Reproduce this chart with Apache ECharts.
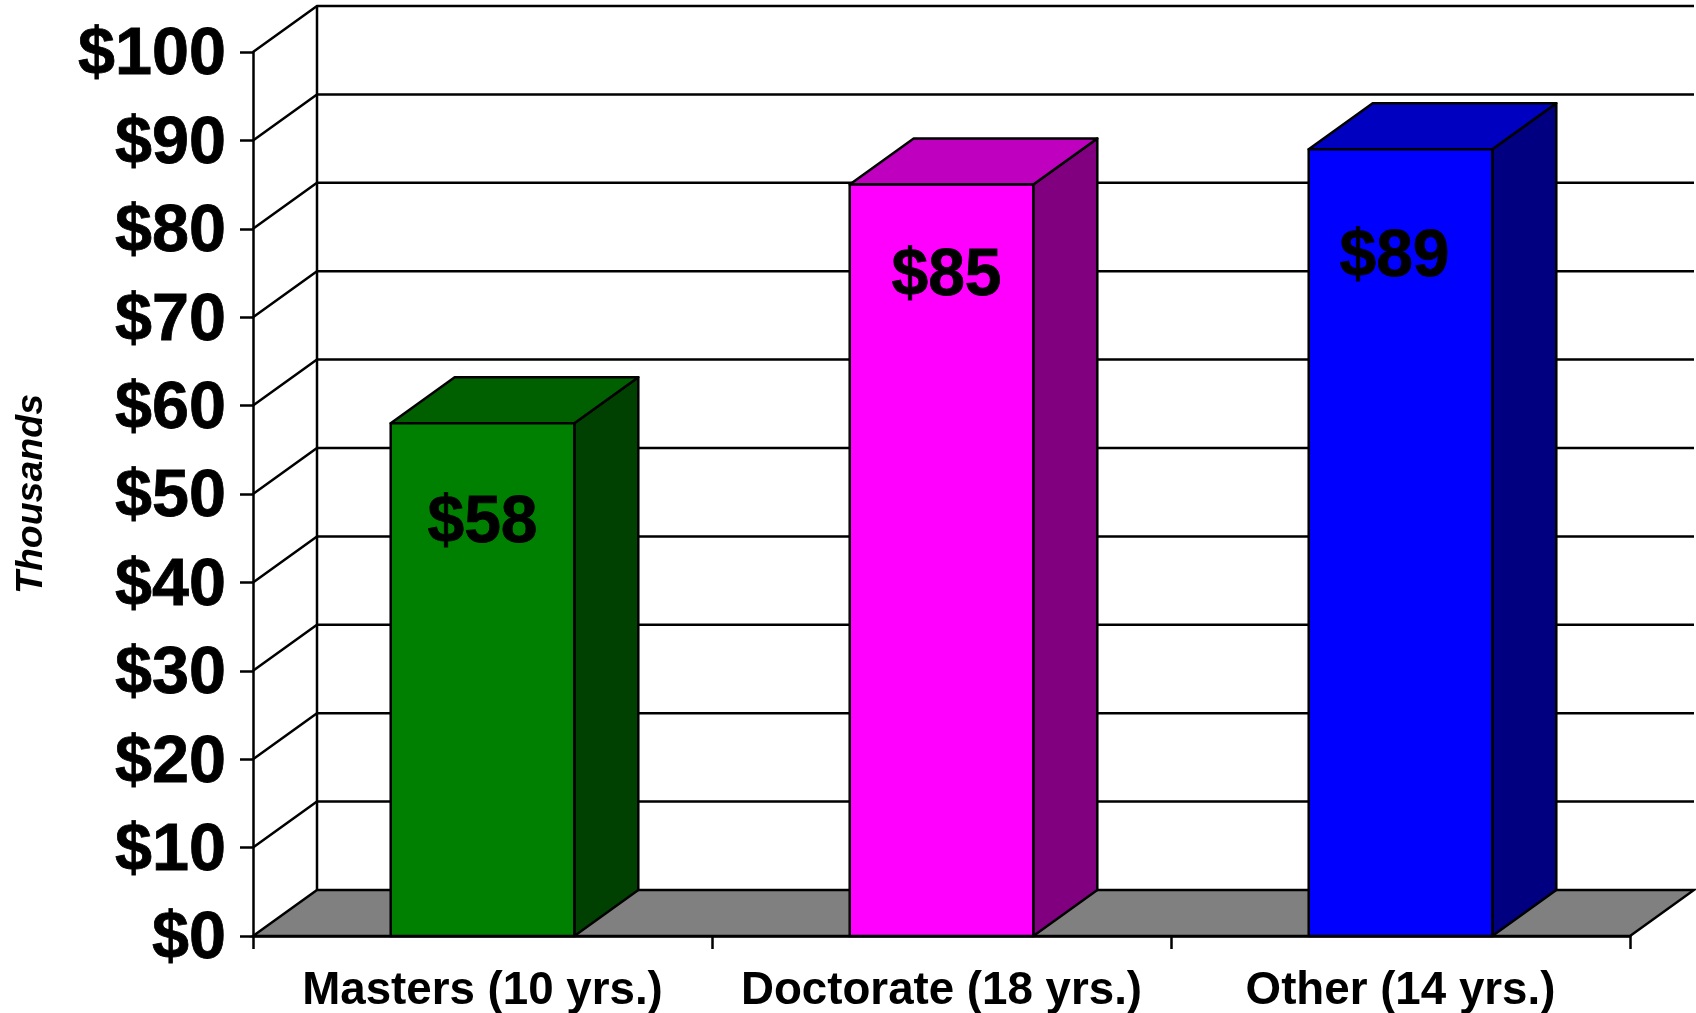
<!DOCTYPE html>
<html>
<head>
<meta charset="utf-8">
<style>html,body{margin:0;padding:0;background:#fff}#c{width:1696px;height:1013px}</style>
<script src="https://cdn.jsdelivr.net/npm/echarts@6/dist/echarts.min.js"></script>
</head>
<body>
<div id="c"></div>
<script>
var categories = ['Masters (10 yrs.)', 'Doctorate (18 yrs.)', 'Other (14 yrs.)'];
var salaries = [58, 85, 89];
var tickValues = [0, 10, 20, 30, 40, 50, 60, 70, 80, 90, 100];
var axisTitle = 'Thousands';

var FONT = '"Liberation Sans", Arial, sans-serif';
var DX = 64, DY = -46;
var LW = 2.5;
var barColors = [
  {front: '#008000', top: '#006000', side: '#004000'},
  {front: '#ff00ff', top: '#bf00bf', side: '#800080'},
  {front: '#0000ff', top: '#0000c0', side: '#000080'}
];
var labelNudge = [[0, 97], [5, 88], [-6, 105]];

function renderWall(params, api) {
  var cs = params.coordSys;
  var v = api.value(0);
  var y = api.coord([0, v])[1];
  var x0 = cs.x, x1 = cs.x + cs.width;
  var kids = [];
  if (params.dataIndex === 0) {
    kids.push({type: 'polygon', shape: {points: [[x0, y], [x0 + DX, y + DY], [x1 + DX, y + DY], [x1, y]]},
      style: {fill: '#808080', stroke: '#000', lineWidth: LW}});
    kids.push({type: 'line', shape: {x1: x0 + DX, y1: y + DY, x2: x0 + DX, y2: cs.y + DY},
      style: {stroke: '#000', lineWidth: LW}});
  } else {
    kids.push({type: 'polyline', shape: {points: [[x0, y], [x0 + DX, y + DY], [x1 + DX, y + DY]]},
      style: {stroke: '#000', lineWidth: LW, fill: null}});
  }
  return {type: 'group', children: kids};
}

function renderBar(params, api) {
  var i = api.value(0), v = api.value(1);
  var c = barColors[i];
  var w = api.size([1, 0])[0] * 0.4;
  var base = api.coord([i, 0]);
  var head = api.coord([i, v]);
  var l = base[0] - w / 2, r = base[0] + w / 2, b = base[1], t = head[1];
  var n = labelNudge[i];
  var edge = {stroke: '#000', lineWidth: LW, lineJoin: 'round'};
  function poly(points, fill) {
    return {type: 'polygon', shape: {points: points}, style: Object.assign({fill: fill}, edge)};
  }
  return {type: 'group', children: [
    poly([[r, b], [r + DX, b + DY], [r + DX, t + DY], [r, t]], c.side),
    poly([[l, t], [l + DX, t + DY], [r + DX, t + DY], [r, t]], c.top),
    poly([[l, b], [l, t], [r, t], [r, b]], c.front),
    {type: 'text', style: {
      x: base[0] + n[0], y: t + n[1] + 4, text: '$' + v, fill: '#000',
      font: 'bold 66px ' + FONT, textAlign: 'center', textVerticalAlign: 'middle',
      stroke: '#000', lineWidth: 0.8
    }}
  ]};
}

var chart = echarts.init(document.getElementById('c'), null, {renderer: 'canvas'});
chart.setOption({
  animation: false,
  backgroundColor: '#fff',
  grid: {left: 253, right: 66, top: 52, bottom: 77, containLabel: false, outerBoundsMode: 'none'},
  xAxis: {
    type: 'category',
    data: categories,
    axisLine: {lineStyle: {color: '#000', width: LW}},
    axisTick: {show: true, length: 13, alignWithLabel: false, lineStyle: {color: '#000', width: LW}},
    axisLabel: {interval: 0, margin: 32, color: '#000', fontFamily: 'Liberation Sans', fontWeight: 'bold', fontSize: 45.7},
    splitLine: {show: false}
  },
  yAxis: {
    type: 'value',
    min: 0, max: 100, interval: 10,
    name: axisTitle,
    nameLocation: 'middle',
    nameRotate: 90,
    nameGap: 202,
    nameTextStyle: {color: '#000', fontFamily: 'Liberation Sans', fontWeight: 'bold', fontStyle: 'italic', fontSize: 37.5},
    axisLine: {show: true, lineStyle: {color: '#000', width: LW}},
    axisTick: {show: true, length: 13, lineStyle: {color: '#000', width: LW}},
    axisLabel: {margin: 27, color: '#000', fontFamily: 'Liberation Sans', fontWeight: 'bold', fontSize: 66.5,
      verticalAlign: 'top', lineHeight: 8, textBorderColor: '#000', textBorderWidth: 0.8,
      formatter: function (v) { return '$' + v; }},
    splitLine: {show: false}
  },
  series: [
    {type: 'custom', name: 'wall', coordinateSystem: 'cartesian2d', z: 1, silent: true,
     renderItem: renderWall, encode: {y: 0},
     data: tickValues.map(function (v) { return [v]; })},
    {type: 'custom', name: 'salary', coordinateSystem: 'cartesian2d', z: 3, silent: true,
     renderItem: renderBar, encode: {x: 0, y: 1},
     data: salaries.map(function (v, i) { return [i, v]; })}
  ]
});
</script>
</body>
</html>
